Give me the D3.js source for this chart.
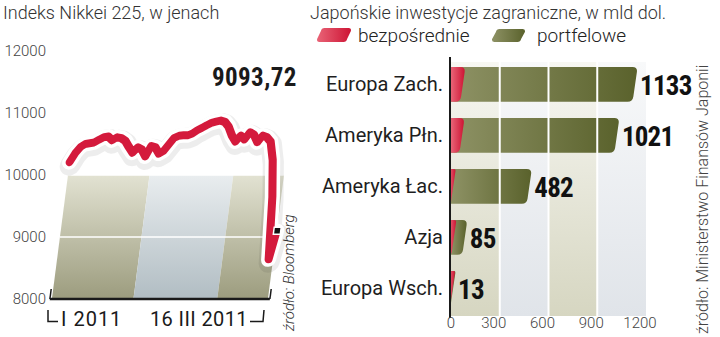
<!DOCTYPE html>
<html><head><meta charset="utf-8">
<script src="https://cdn.jsdelivr.net/npm/d3@7"></script>
<style>
html,body{margin:0;padding:0;background:#fff;}
svg{display:block;}
text{font-family:Roboto,"Noto Sans",sans-serif;}
.narrow{font-family:"Liberation Sans Narrow","Roboto Condensed","DejaVu Sans Condensed",sans-serif;font-weight:bold;}
</style></head>
<body>
<svg id="c" width="720" height="337"></svg>
<script>
// ---------- DATA ----------
// Nikkei 225 daily closes, 4 I 2011 – 16 III 2011
const nikkei = [10208,10352,10450,10500,10512,10525,10570,10610,10620,10560,
  10608,10594,10550,10450,10360,10445,10410,10300,10465,
  10445,10345,10390,10495,10600,10632,10640,10640,10670,10722,
  10760,10803,10840,10860,10877,10858,10780,10640,10540,
  10635,10575,10688,10650,10530,10635,10608,10535,10240,9650,8640,9093.72];
const monthStarts = [0, 19, 38];            // index of first session in I, II, III
const nikkeiTicks = [8000, 9000, 10000, 11000, 12000];
const nikkeiGrid = [9000, 10000];
const nikkeiLast = "9093,72";
const xLabels = ["I 2011", "16 III 2011"];

const regions = ["Europa Zach.", "Ameryka Płn.", "Ameryka Łac.", "Azja", "Europa Wsch."];
const portfelowe = [1133, 1021, 482, 85, 13];
const bezposrednie = [73, 68, 14, 18, 10];
const invTicks = [0, 300, 600, 900, 1200];
const legendLabels = ["bezpośrednie", "portfelowe"];

// ---------- SETUP ----------
const svg = d3.select("#c");
const defs = svg.append("defs");
function grad(id, stops, vertical){
  const g = defs.append("linearGradient").attr("id", id)
    .attr("x1",0).attr("y1",0).attr("x2", vertical?0:1).attr("y2", vertical?1:0);
  stops.forEach((c,i)=>g.append("stop").attr("offset", i/(stops.length-1)).attr("stop-color", c));
}
grad("olivePanel", ["#e2e2d2", "#9c9c7e"], true);
grad("bluePanel", ["#e9edef", "#b1bdc3"], true);
grad("bandBeige", ["#f7f7f2", "#d6d6c1"], true);
grad("bandBlue", ["#f8f9fa", "#e0e4e9"], true);
grad("greenBar", ["#8e9265", "#5a622c"], false);
grad("redBar", ["#e96477", "#cd1434"], false);

// ---------- LEFT CHART ----------
svg.append("text").attr("x", 3).attr("y", 19).attr("font-size", 18).attr("font-weight", 300)
  .attr("fill", "#333").text("Indeks Nikkei 225, w jenach");

const y = d3.scaleLinear().domain([8000, 12000]).range([299, 51]);
const x = d3.scaleLinear().domain([0, nikkei.length - 1]).range([68, 284]);

svg.append("g").selectAll("text").data(nikkeiTicks).join("text")
  .attr("x", 46).attr("y", d => y(d) + 5).attr("text-anchor", "end")
  .attr("font-size", 15).attr("font-weight", 300).attr("fill", "#444").text(d => d);

const sk = svg.append("g").attr("transform", `translate(0,${y(10000)}) skewX(-7.4) translate(0,${-y(10000)})`);

monthStarts.forEach((s, i) => {
  const e = i < monthStarts.length - 1 ? monthStarts[i + 1] - 0.5 : nikkei.length - 1;
  const b = i === 0 ? 0 : s - 0.5;
  sk.append("rect").attr("x", x(b)).attr("width", x(e) - x(b))
    .attr("y", y(10000)).attr("height", y(8000) - y(10000))
    .attr("fill", i === 1 ? "url(#bluePanel)" : "url(#olivePanel)");
});
sk.selectAll(".grid").data(nikkeiGrid).join("line")
  .attr("x1", x(0)).attr("x2", x(nikkei.length - 1))
  .attr("y1", d => y(d)).attr("y2", d => y(d))
  .attr("stroke", "#fff").attr("stroke-width", 1.5);
sk.append("line").attr("x1", x(0) - 2).attr("x2", x(nikkei.length - 1) + 2)
  .attr("y1", y(8000)).attr("y2", y(8000)).attr("stroke", "#1a1a1a").attr("stroke-width", 2.5);
[x(0) - 2, x(nikkei.length - 1) + 2].forEach(xx => {
  sk.append("line").attr("x1", xx).attr("x2", xx).attr("y1", y(8000) - 10).attr("y2", y(8000))
    .attr("stroke", "#1a1a1a").attr("stroke-width", 1.5);
});
const line = d3.line().x((d, i) => x(i)).y(d => y(d)).curve(d3.curveLinear);
sk.append("path").datum(nikkei).attr("d", line).attr("fill", "none")
  .attr("stroke", "rgba(0,0,0,0.07)").attr("stroke-width", 21)
  .attr("stroke-linejoin", "round").attr("stroke-linecap", "round").attr("transform", "translate(1,3)");
sk.append("path").datum(nikkei).attr("d", line).attr("fill", "none")
  .attr("stroke", "#fff").attr("stroke-width", 15)
  .attr("stroke-linejoin", "round").attr("stroke-linecap", "round");
sk.append("path").datum(nikkei).attr("d", line).attr("fill", "none")
  .attr("stroke", "#d41a3c").attr("stroke-width", 8)
  .attr("stroke-linejoin", "round").attr("stroke-linecap", "round");
const li = nikkei.length - 1;
sk.append("rect").attr("x", x(li) - 3).attr("y", y(nikkei[li]) - 4)
  .attr("width", 7).attr("height", 7).attr("fill", "#111").attr("stroke", "#fff").attr("stroke-width", 1.5);

svg.append("text").attr("class", "narrow").attr("x", 212).attr("y", 86)
  .attr("font-size", 25).attr("letter-spacing", 0.4).attr("fill", "#1a1a1a").text(nikkeiLast);

svg.append("path").attr("d", "M48,310 L48,321.5 L58,321.5").attr("fill", "none")
  .attr("stroke", "#1a1a1a").attr("stroke-width", 1.5);
svg.append("path").attr("d", "M250,321.5 L263,321.5 L264,310").attr("fill", "none")
  .attr("stroke", "#1a1a1a").attr("stroke-width", 1.5);
svg.append("text").attr("x", 61).attr("y", 326).attr("font-size", 20).attr("fill", "#1a1a1a")
  .attr("letter-spacing", 1).text(xLabels[0]);
svg.append("text").attr("x", 248).attr("y", 326).attr("text-anchor", "end").attr("font-size", 20)
  .attr("letter-spacing", 0.4).attr("fill", "#1a1a1a").text(xLabels[1]);

svg.append("text").attr("transform", "translate(294,331) rotate(-90)")
  .attr("font-size", 15).attr("font-style", "italic").attr("font-weight", 300).attr("fill", "#333")
  .text("źródło: Bloomberg");

// ---------- RIGHT CHART ----------
svg.append("text").attr("x", 310).attr("y", 19).attr("font-size", 18).attr("font-weight", 300)
  .attr("fill", "#333").text("Japońskie inwestycje zagraniczne, w mld dol.");

const xb = d3.scaleLinear().domain([0, 1200]).range([451, 646]);
const yb = d3.scaleBand().domain(regions).range([58.8, 313.8]).paddingInner(0.32).paddingOuter(0.16);
const bandTop = 62, bandBottom = 316;

for (let i = 0; i < invTicks.length - 1; i++) {
  svg.append("rect").attr("x", xb(invTicks[i])).attr("width", xb(invTicks[i + 1]) - xb(invTicks[i]))
    .attr("y", bandTop).attr("height", bandBottom - bandTop)
    .attr("fill", i % 2 === 0 ? "url(#bandBeige)" : "url(#bandBlue)");
}

function barPath(v, t, h) {
  const xl = xb(0), xr = xb(v), s = 2.5;
  let r = Math.min(5, Math.max(0.5, (xr - xl) * 0.8));
  const Bx = xr + s, Cx = xr - s, b = t + h;
  const len = Math.hypot(2 * s, h), ux = -2 * s / len, uy = h / len;
  return `M${xl},${t} L${Bx - r},${t} Q${Bx},${t} ${Bx + ux * r},${t + uy * r}` +
    ` L${Cx - ux * r},${b - uy * r} Q${Cx},${b} ${Cx - r},${b} L${xl},${b} Z`;
}

svg.append("g").selectAll("path").data(regions).join("path")
  .attr("d", (d, i) => barPath(portfelowe[i], yb(d), yb.bandwidth()))
  .attr("fill", "url(#greenBar)");
svg.append("g").selectAll("path").data(regions).join("path")
  .attr("d", (d, i) => barPath(bezposrednie[i], yb(d), yb.bandwidth()))
  .attr("fill", "url(#redBar)");

svg.append("g").selectAll("line").data(invTicks.slice(1, -1)).join("line")
  .attr("x1", d => xb(d)).attr("x2", d => xb(d)).attr("y1", bandTop).attr("y2", bandBottom)
  .attr("stroke", "#fff").attr("stroke-width", 2);

svg.append("line").attr("x1", 450).attr("x2", 450).attr("y1", 57).attr("y2", 318)
  .attr("stroke", "#1a1a1a").attr("stroke-width", 2);
svg.append("g").selectAll("text").data(invTicks).join("text")
  .attr("x", d => xb(d) - (d === 0 ? 0 : 6)).attr("y", 328).attr("text-anchor", "middle")
  .attr("font-size", 15).attr("font-weight", 300).attr("fill", "#444").text(d => d);

svg.append("g").selectAll("text").data(regions).join("text")
  .attr("x", 443).attr("y", d => yb(d) + yb.bandwidth() / 2 + 7).attr("text-anchor", "end")
  .attr("font-size", 20).attr("fill", "#1e1e1e").text(d => d);

svg.append("g").selectAll("text").data(regions).join("text").attr("class", "narrow")
  .attr("x", (d, i) => xb(portfelowe[i]) + 5).attr("y", (d, i) => yb(d) + yb.bandwidth() / 2 + 11)
  .attr("font-size", 27).attr("letter-spacing", -0.8).attr("fill", "#111").text((d, i) => portfelowe[i]);

function swatch(x0, y0, w, h, fill) {
  const s = 2.5, r = 3;
  svg.append("path").attr("d",
    `M${x0 + s + r},${y0} L${x0 + w + s - r},${y0} Q${x0 + w + s},${y0} ${x0 + w + s - 0.6},${y0 + r}` +
    ` L${x0 + w - s + 0.6},${y0 + h - r} Q${x0 + w - s},${y0 + h} ${x0 + w - s - r},${y0 + h}` +
    ` L${x0 - s + r},${y0 + h} Q${x0 - s},${y0 + h} ${x0 - s + 0.6},${y0 + h - r}` +
    ` L${x0 + s - 0.6},${y0 + r} Q${x0 + s},${y0} ${x0 + s + r},${y0} Z`).attr("fill", fill);
}
swatch(319, 28, 30, 14, "url(#redBar)");
swatch(494, 29, 29, 13, "url(#greenBar)");
svg.append("text").attr("x", 358).attr("y", 42).attr("font-size", 19).attr("font-weight", 300)
  .attr("fill", "#222").text(legendLabels[0]);
svg.append("text").attr("x", 537).attr("y", 42).attr("font-size", 19).attr("font-weight", 300)
  .attr("fill", "#222").text(legendLabels[1]);

svg.append("text").attr("transform", "translate(708,334) rotate(-90)")
  .attr("font-size", 16).attr("font-weight", 300).attr("fill", "#444")
  .text("źródło: Ministerstwo Finansów Japonii");
</script>
</body></html>
